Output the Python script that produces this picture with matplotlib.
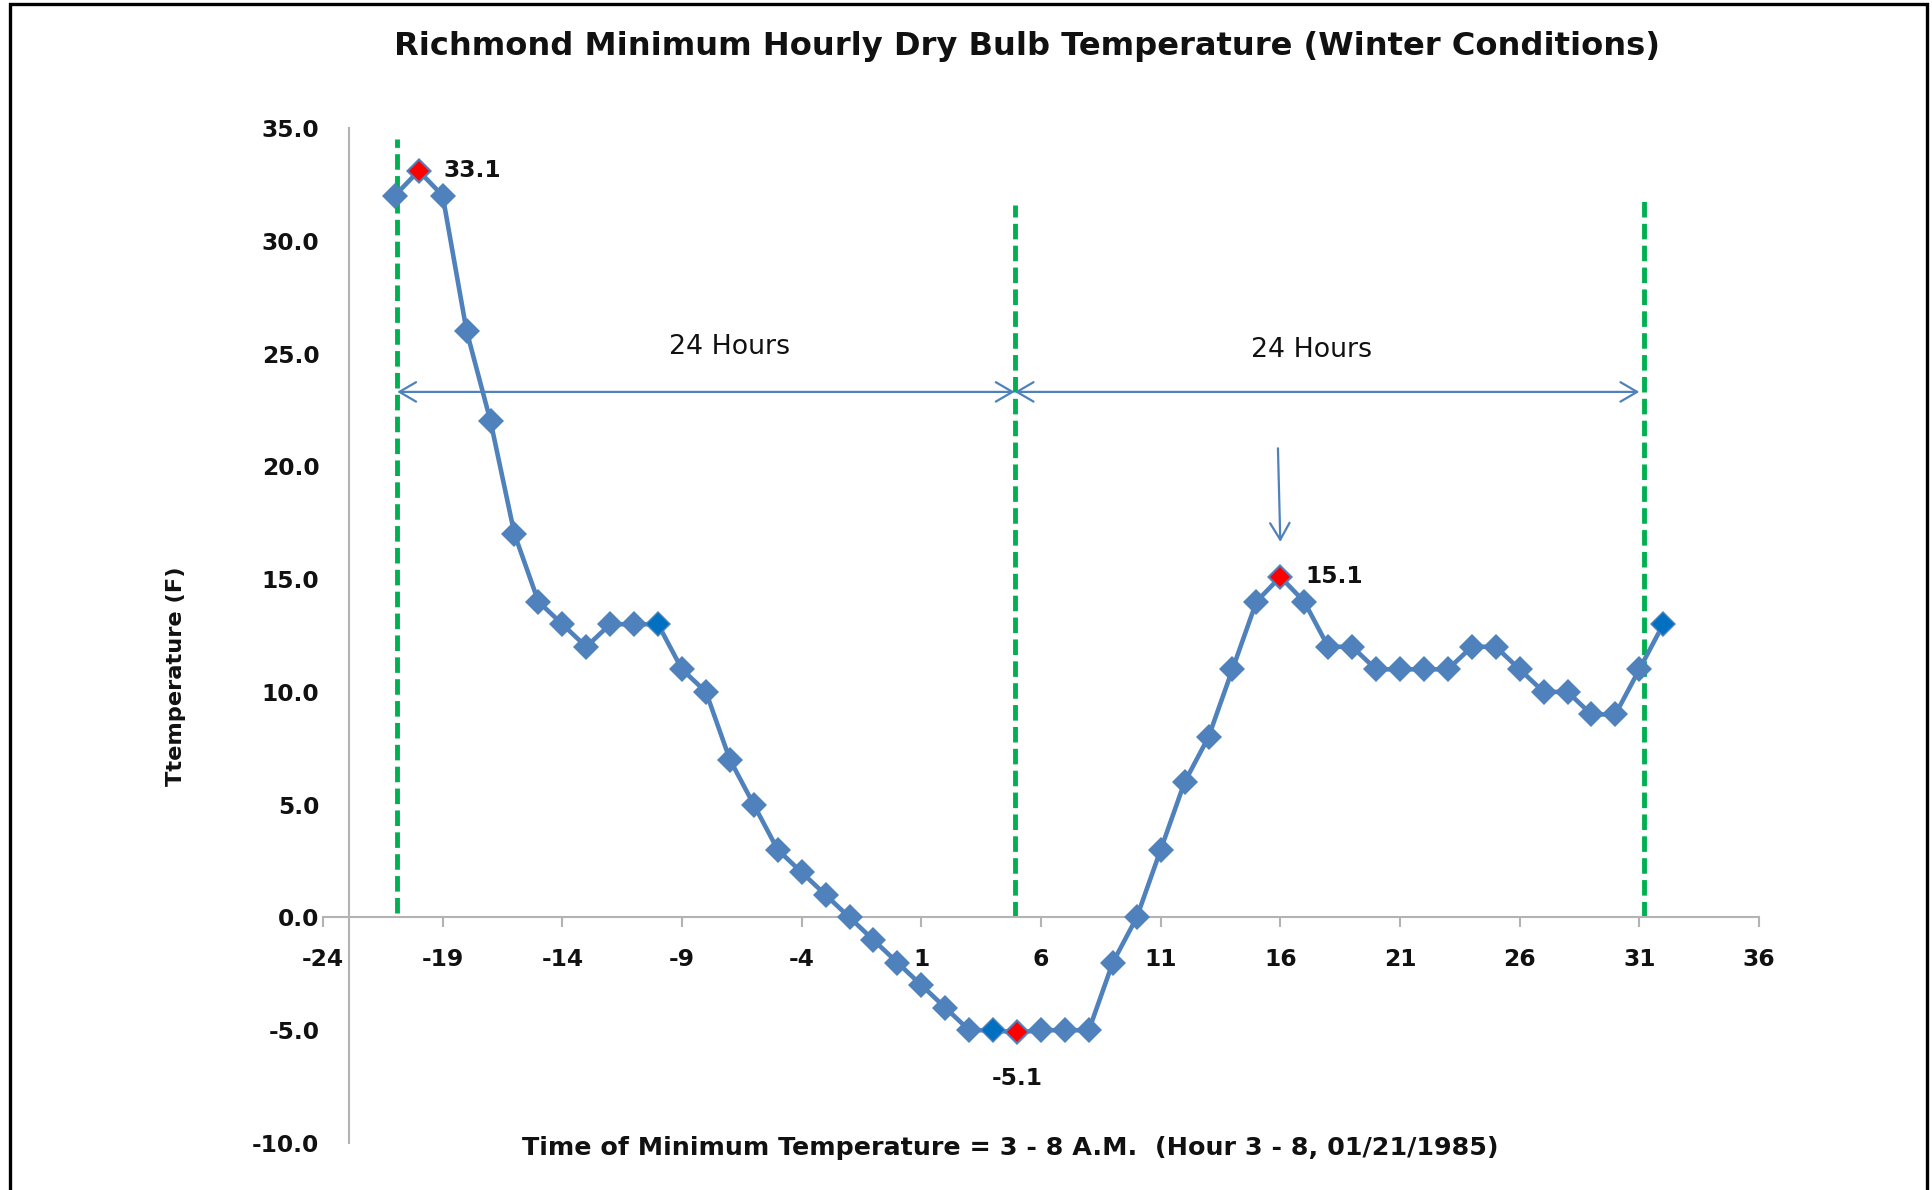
import matplotlib
matplotlib.use("Agg")
import matplotlib.pyplot as plt
from matplotlib.patches import Rectangle

plt.rcParams['font.family'] = ['DejaVu Sans']

# ---- data ----
hours = [-21, -20, -19, -18, -17, -16, -15, -14, -13, -12, -11, -10, -9, -8, -7,
         -6, -5, -4, -3, -2, -1, 0, 1, 2, 3, 4, 5, 6, 7, 8, 9, 10, 11, 12, 13,
         14, 15, 16, 17, 18, 19, 20, 21, 22, 23, 24, 25, 26, 27, 28, 29, 30, 31, 32]
temps = [32, 33.1, 32, 26, 22, 17, 14, 13, 12, 13, 13, 13, 11, 10, 7,
         5, 3, 2, 1, 0, -1, -2, -3, -4, -5, -5, -5.1, -5, -5, -5, -2, 0, 3, 6, 8,
         11, 14, 15.1, 14, 12, 12, 11, 11, 11, 11, 12, 12, 11, 10, 10, 9, 9, 11, 13]
extreme_hours = [-20, 5, 16]
extreme_temps = [33.1, -5.1, 15.1]
extreme_labels = ["33.1", "-5.1", "15.1"]
marked_hours = [-10, 4, 32]
marked_temps = [13, -5, 13]
window_x = [-20.9, 4.9, 31.2]
window_top = [34.5, 31.6, 31.9]
window_bottom = [0.2, 0.0, 0.0]
x_ticks = [-24, -19, -14, -9, -4, 1, 6, 11, 16, 21, 26, 31, 36]
y_ticks = [-10, -5, 0, 5, 10, 15, 20, 25, 30, 35]

title = "Richmond Minimum Hourly Dry Bulb Temperature (Winter Conditions)"
xlabel = "Time of Minimum Temperature = 3 - 8 A.M.  (Hour 3 - 8, 01/21/1985)"
ylabel = "Ttemperature (F)"

W, H = 1933, 1190
fig = plt.figure(figsize=(W / 100, H / 100), dpi=100)
ax = fig.add_axes([323 / W, 1 - 1143 / H, (1759 - 323) / W, (1143 - 128) / H])
ax.set_xlim(-24, 36)
ax.set_ylim(-10, 35)

axis_col = '#B3B3B3'
txt_col = '#111111'
for s in ['top', 'right']:
    ax.spines[s].set_visible(False)
ax.spines['bottom'].set_position(('data', 0))
ax.spines['left'].set_position(('data', -22.9))
ax.spines['bottom'].set_color(axis_col)
ax.spines['left'].set_color(axis_col)
ax.spines['bottom'].set_linewidth(1.5)
ax.spines['left'].set_linewidth(1.5)

tick_fs = 16.8
ax.set_xticks(x_ticks)
ax.set_xticklabels([str(v) for v in x_ticks])
ax.set_yticks(y_ticks)
ax.set_yticklabels([f"{v:.1f}" for v in y_ticks])
ax.tick_params(axis='x', direction='out', length=7, width=1.5, color=axis_col,
               labelsize=tick_fs, pad=15)
ax.tick_params(axis='y', length=0, labelsize=tick_fs, pad=21.5)
for lab in ax.get_xticklabels() + ax.get_yticklabels():
    lab.set_fontweight('bold')
    lab.set_color(txt_col)

# main series
ax.plot(hours, temps, color='#4F81BD', lw=3.3, marker='D', markersize=13.5,
        markeredgewidth=0, zorder=3)
ax.plot(marked_hours, marked_temps, linestyle='none', marker='D', markersize=11,
        color='#0070C0', markeredgewidth=0, zorder=4)
ax.plot(extreme_hours, extreme_temps, linestyle='none', marker='D', markersize=10.5,
        color='#FF0000', markeredgewidth=0, zorder=5)

# labels for extremes
lab_kw = dict(textcoords='offset points', va='center', fontsize=tick_fs,
              fontweight='bold', color=txt_col)
ax.annotate(extreme_labels[0], (extreme_hours[0], extreme_temps[0]), xytext=(18, 0),
            ha='left', **lab_kw)
ax.annotate(extreme_labels[1], (extreme_hours[1], extreme_temps[1]), xytext=(0, -33),
            ha='center', **lab_kw)
ax.annotate(extreme_labels[2], (extreme_hours[2], extreme_temps[2]), xytext=(18, 0),
            ha='left', **lab_kw)

# window lines
for x, t, b in zip(window_x, window_top, window_bottom):
    ax.plot([x, x], [b, t], color='#00B050', lw=3.5, linestyle=(0, (3.2, 1.3)),
            zorder=2, dash_capstyle='butt')

# 24-hour arrows
arrow_y = 23.3
for x0, x1 in [(window_x[0], window_x[1]), (window_x[1], 31.0)]:
    ax.annotate('', xy=(x1, arrow_y), xytext=(x0, arrow_y),
                arrowprops=dict(arrowstyle='<->,head_length=0.6,head_width=0.35',
                                color='#4F81BD', lw=1.6, mutation_scale=20,
                                shrinkA=0, shrinkB=0))
ax.text(-7.0, 25.3, "24 Hours", ha='center', va='center', fontsize=19.3, color=txt_col)
ax.text(17.3, 25.15, "24 Hours", ha='center', va='center', fontsize=19.3, color=txt_col)

# down arrow to the afternoon peak
ax.annotate('', xy=(16.0, 16.65), xytext=(15.9, 20.8),
            arrowprops=dict(arrowstyle='->,head_length=0.6,head_width=0.35',
                            color='#4F81BD', lw=1.6, mutation_scale=20,
                            shrinkA=0, shrinkB=0))

# title and axis labels
fig.text(1027 / W, 1 - 46 / H, title, ha='center', va='center', fontsize=23.1,
         fontweight='bold', color=txt_col)
fig.text(1010 / W, 1 - 1148 / H, xlabel, ha='center', va='center', fontsize=18.3,
         fontweight='bold', color=txt_col)
fig.text(176 / W, 1 - 676 / H, ylabel, ha='center', va='center', rotation=90,
         fontsize=16.2, fontweight='bold', color=txt_col)

# outer frame
fig.patches.append(Rectangle((10 / W, -0.01), (1927 - 10) / W, 1 - 4 / H + 0.01,
                             transform=fig.transFigure, fill=False,
                             edgecolor='black', lw=2.4))

fig.savefig("out.png", dpi=100)
